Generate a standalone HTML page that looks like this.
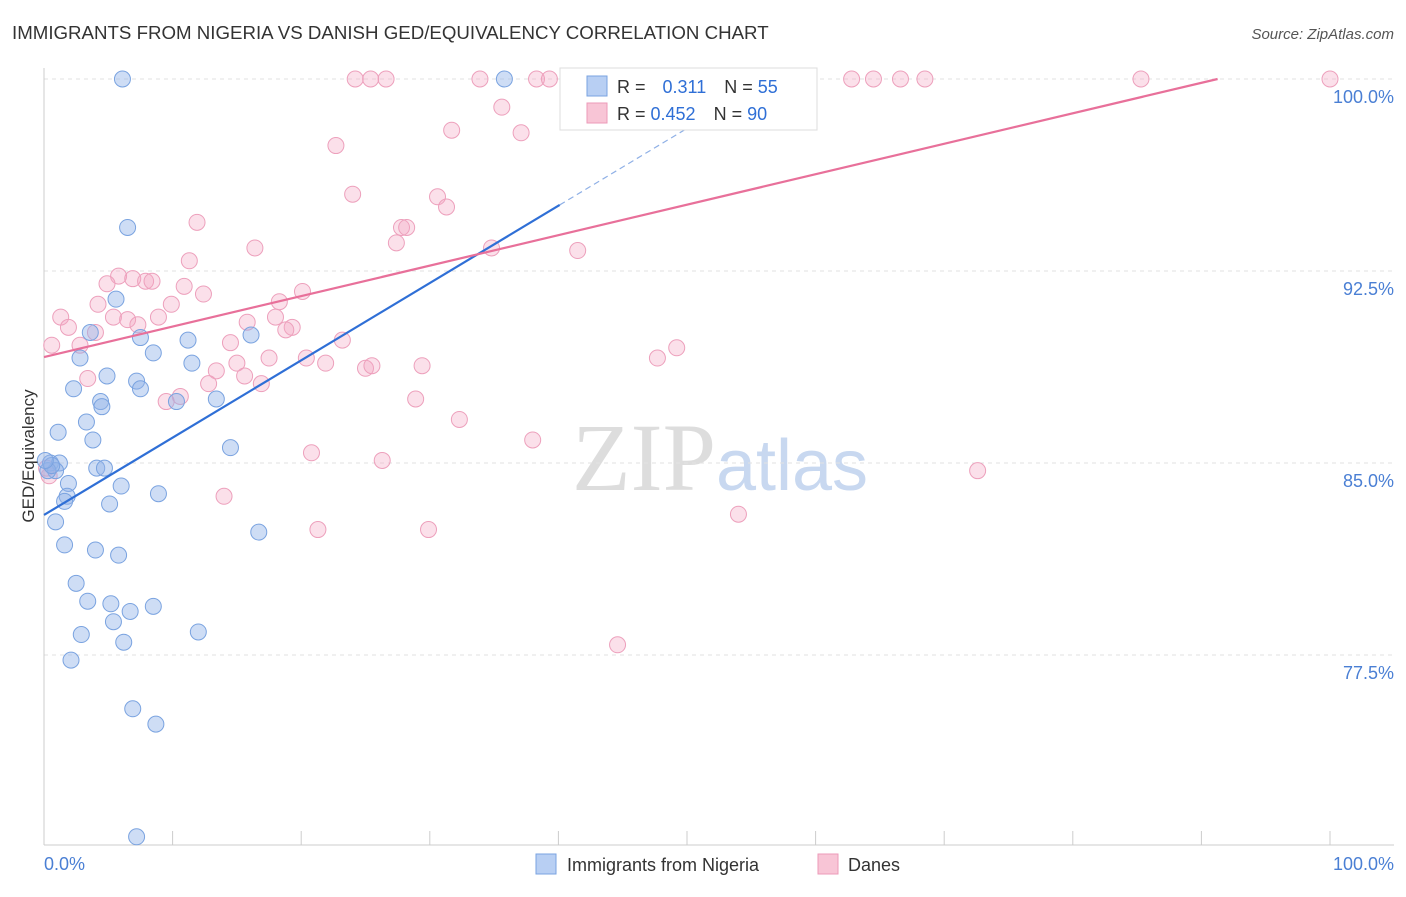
<!DOCTYPE html>
<html><head><meta charset="utf-8"><style>
body{margin:0;background:#fff;font-family:"Liberation Sans",sans-serif;}
</style></head><body>
<svg id="chart" width="1406" height="892" xmlns="http://www.w3.org/2000/svg">
<text x="12" y="39" font-size="18.7" fill="#333">IMMIGRANTS FROM NIGERIA VS DANISH GED/EQUIVALENCY CORRELATION CHART</text>
<text x="1394" y="39" font-size="15" fill="#555" text-anchor="end" font-style="italic">Source: ZipAtlas.com</text>
<text x="720" y="490" font-size="96" fill="#ddd" text-anchor="middle" font-family="Liberation Serif,serif">ZIP<tspan fill="#c8d8f0" font-family="Liberation Sans,sans-serif" font-size="72">atlas</tspan></text>
<g id="grid"></g><g id="pts"></g><g id="lines"></g>
<text transform="translate(34,456) rotate(-90)" font-size="17" fill="#333" text-anchor="middle">GED/Equivalency</text>
<text x="44" y="870" font-size="18" fill="#4a7fd4">0.0%</text>
<text x="1394" y="870" font-size="18" fill="#4a7fd4" text-anchor="end">100.0%</text>
<g>
<rect x="560" y="68" width="257" height="62" fill="#fff" stroke="#ddd"/>
<rect x="587" y="76" width="20" height="20" fill="#b8cff3" stroke="#7aa3e0"/>
<rect x="587" y="103" width="20" height="20" fill="#f8c5d6" stroke="#ec9ab8"/>
<text x="617" y="93" font-size="18" fill="#333">R = <tspan fill="#2f6fd6" dx="12">0.311</tspan><tspan fill="#333" dx="18">N = </tspan><tspan fill="#2f6fd6">55</tspan></text>
<text x="617" y="120" font-size="18" fill="#333">R = <tspan fill="#2f6fd6">0.452</tspan><tspan fill="#333" dx="18">N = </tspan><tspan fill="#2f6fd6">90</tspan></text>
</g>
<g>
<rect x="536" y="854" width="20" height="20" fill="#b8cff3" stroke="#7aa3e0"/>
<text x="567" y="871" font-size="18" fill="#333">Immigrants from Nigeria</text>
<rect x="818" y="854" width="20" height="20" fill="#f8c5d6" stroke="#ec9ab8"/>
<text x="848" y="871" font-size="18" fill="#333">Danes</text>
</g>
</svg>
<script>
const yTicks=[100,92.5,85,77.5];
const yTickLabels=["100.0%","92.5%","85.0%","77.5%"];
const blueX=[6.1,35.8,6.5,5.6,3.6,7.5,2.8,8.5,11.2,11.5,4.9,7.2,7.5,2.3,4.4,4.5,10.3,13.4,16.1,3.3,3.8,1.1,14.5,0.5,1.2,0.9,4.1,4.7,1.9,6.0,8.9,1.8,1.6,5.1,0.9,16.7,1.6,4.0,5.8,2.5,3.4,5.2,8.5,6.7,5.4,2.9,12.0,6.2,2.1,6.9,8.7,7.2,0.3,0.6,0.1];
const blueY=[100,100,94.2,91.4,90.1,89.9,89.1,89.3,89.8,88.9,88.4,88.2,87.9,87.9,87.4,87.2,87.4,87.5,90.0,86.6,85.9,86.2,85.6,85.0,85.0,84.7,84.8,84.8,84.2,84.1,83.8,83.7,83.5,83.4,82.7,82.3,81.8,81.6,81.4,80.3,79.6,79.5,79.4,79.2,78.8,78.3,78.4,78.0,77.3,75.4,74.8,70.4,84.7,84.9,85.1];
const pinkX=[24.2,25.4,26.6,33.9,38.3,39.3,45.9,52.3,58.4,62.8,64.5,66.6,68.5,85.3,100,35.6,31.7,37.1,22.7,24.0,30.6,31.3,11.9,27.8,28.2,27.4,16.4,34.8,41.5,11.3,5.8,6.9,4.9,7.9,8.4,10.9,12.4,20.1,18.3,9.9,4.2,1.3,5.4,6.5,8.9,7.3,1.9,15.8,18.0,19.3,18.8,4.0,0.6,2.8,23.2,14.5,49.2,47.7,20.4,21.9,15.0,17.5,25.0,25.5,29.4,13.4,15.6,3.4,16.9,12.8,10.6,9.5,28.9,32.3,38.0,20.8,26.3,72.6,14.0,21.3,29.9,54.0,44.6,0.4,0.2];
const pinkY=[100,100,100,100,100,100,100,100,100,100,100,100,100,100,100,98.9,98.0,97.9,97.4,95.5,95.4,95.0,94.4,94.2,94.2,93.6,93.4,93.4,93.3,92.9,92.3,92.2,92.0,92.1,92.1,91.9,91.6,91.7,91.3,91.2,91.2,90.7,90.7,90.6,90.7,90.4,90.3,90.5,90.7,90.3,90.2,90.1,89.6,89.6,89.8,89.7,89.5,89.1,89.1,88.9,88.9,89.1,88.7,88.8,88.8,88.6,88.4,88.3,88.1,88.1,87.6,87.4,87.5,86.7,85.9,85.4,85.1,84.7,83.7,82.4,82.4,83.0,77.9,84.5,84.8];
const blueTrend=[82.97,0.302];
const pinkTrend=[89.14,0.119];
const NS="http://www.w3.org/2000/svg";
const sx=v=>44+v*12.86, sy=v=>79+(100-v)*25.6;
function mk(t,a,p){const e=document.createElementNS(NS,t);for(const k in a)e.setAttribute(k,a[k]);p.appendChild(e);return e;}
const grid=document.getElementById('grid');
yTicks.forEach((t,i)=>{
 const l=mk('line',{x1:44,x2:1394,y1:sy(t),y2:sy(t),stroke:'#e2e2e2','stroke-dasharray':'4,4'},grid);
 
 
 const tx=mk('text',{x:1394,y:sy(t)+24,'font-size':18,fill:'#4a7fd4','text-anchor':'end'},grid);
 tx.textContent=yTickLabels[i];
 
 
});
mk('line',{x1:44,x2:44,y1:68,y2:845,stroke:'#ccc'},grid);
mk('line',{x1:44,x2:1394,y1:845,y2:845,stroke:'#ccc'},grid);
for(let i=0;i<=10;i++){const x=sx(i*10);const t=mk('line',{x1:x,x2:x,y1:831,y2:845,stroke:'#ccc'},grid);
 
 }
const pts=document.getElementById('pts');
pinkX.forEach((x,i)=>{const c=mk('circle',{cx:sx(x),cy:sy(pinkY[i]),r:8,fill:'rgba(244,167,196,0.35)',stroke:'#eda0bc','stroke-width':1},pts);
 
 });
blueX.forEach((x,i)=>{const c=mk('circle',{cx:sx(x),cy:sy(blueY[i]),r:8,fill:'rgba(147,180,232,0.45)',stroke:'#7aa3e0','stroke-width':1},pts);
 
 });
const ln=document.getElementById('lines');
const bf=x=>blueTrend[0]+blueTrend[1]*x, pf=x=>pinkTrend[0]+pinkTrend[1]*x;
const b1=mk('line',{x1:sx(0),y1:sy(bf(0)),x2:sx(40.1),y2:sy(bf(40.1)),stroke:'#2f6fd6','stroke-width':2.2},ln);


const b2=mk('line',{x1:sx(40.1),y1:sy(bf(40.1)),x2:sx(56),y2:sy(bf(56)),stroke:'#8fb0e6','stroke-width':1.2,'stroke-dasharray':'6,4'},ln);


const xe=(100-pinkTrend[0])/pinkTrend[1];
const p1=mk('line',{x1:sx(0),y1:sy(pf(0)),x2:sx(xe),y2:sy(100),stroke:'#e8709a','stroke-width':2.2},ln);


</script>
</body></html>
